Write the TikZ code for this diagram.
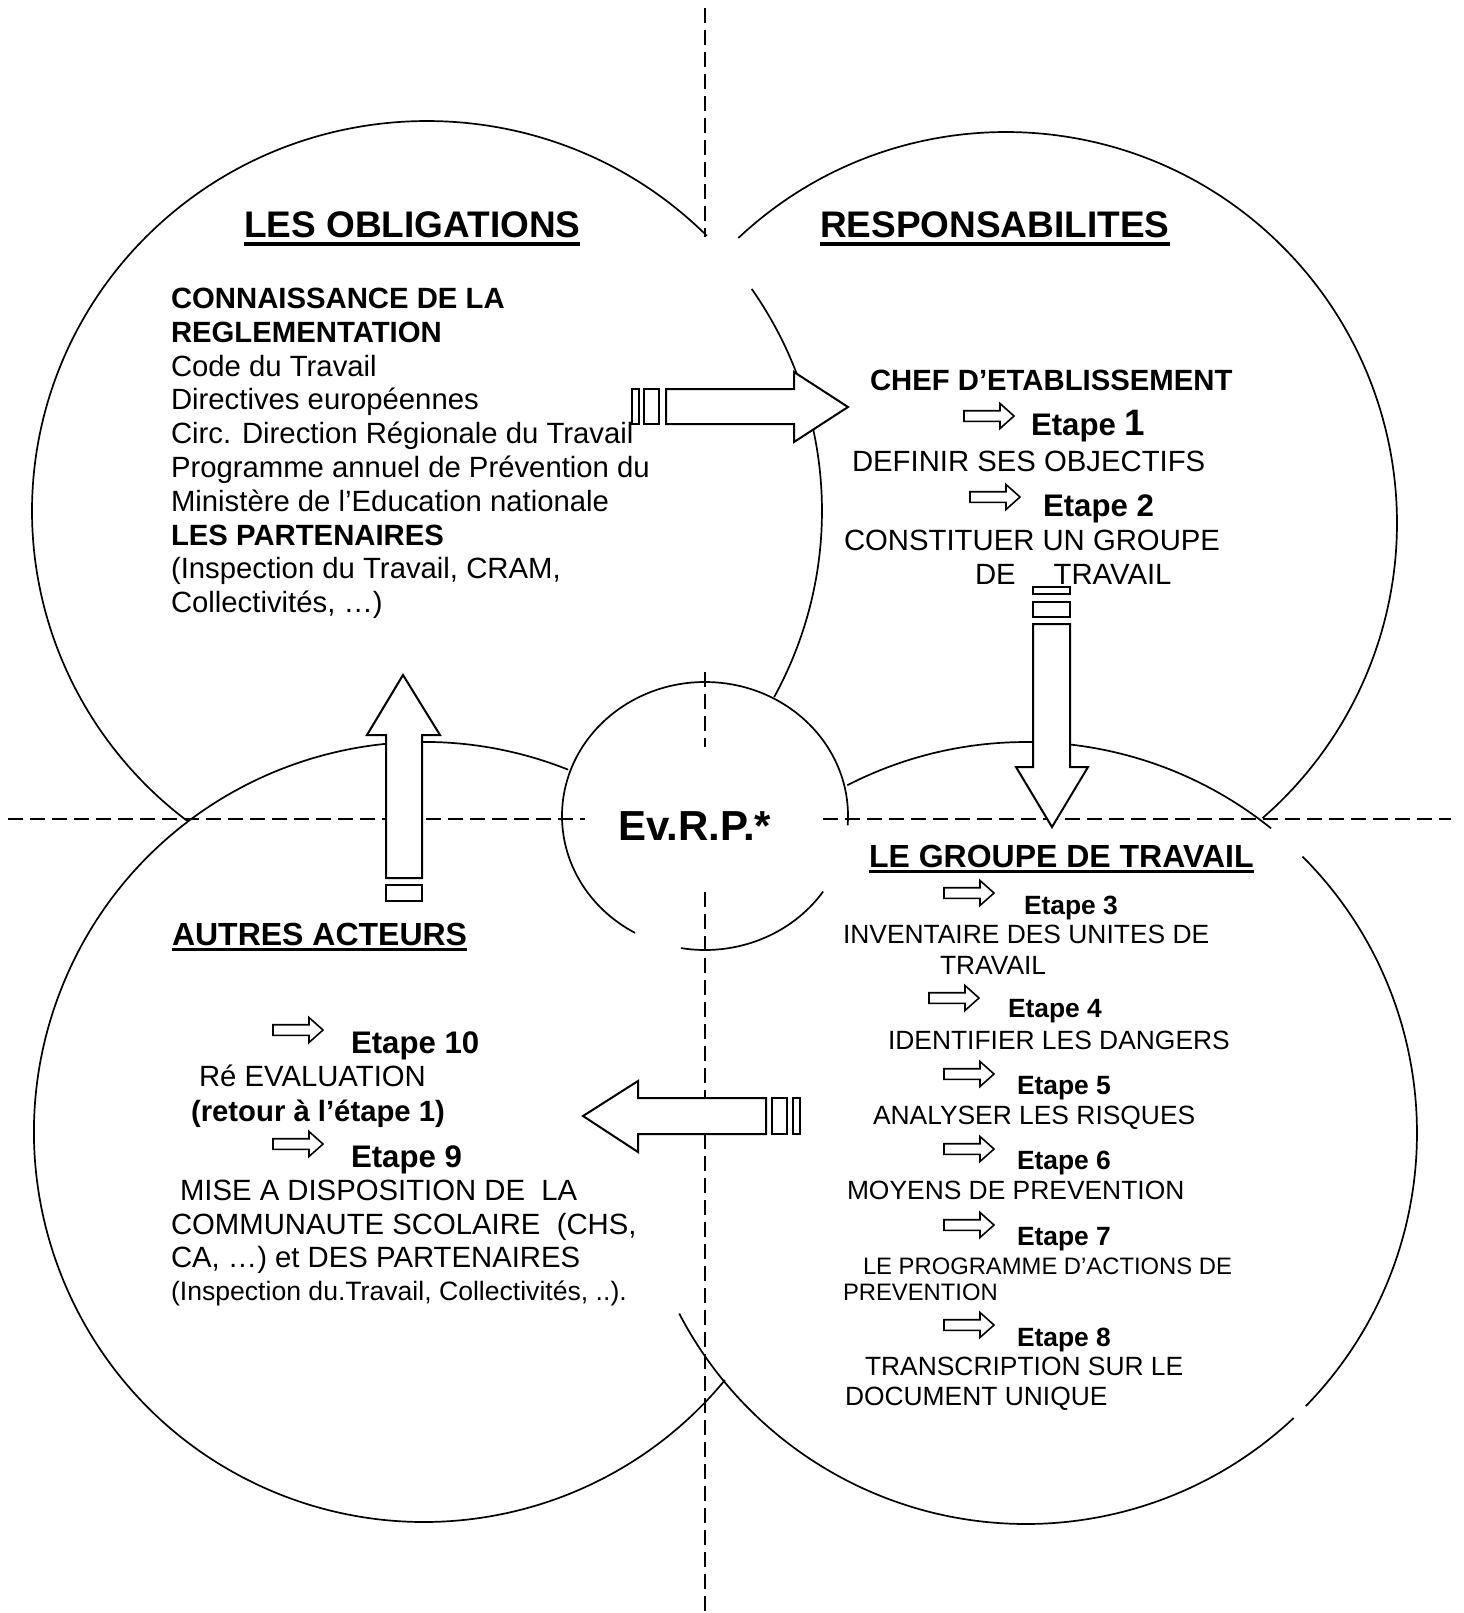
\documentclass[tikz,border=0pt]{standalone}
\usepackage{fontspec}
\setmainfont{Liberation Sans}
\newsavebox\ulbox
\newcommand\ulA[1]{\sbox\ulbox{#1}\rlap{\rule[-4.4pt]{\wd\ulbox}{1.9pt}}\usebox\ulbox}
\newcommand\ulB[1]{\sbox\ulbox{#1}\rlap{\rule[-3.2pt]{\wd\ulbox}{1.9pt}}\usebox\ulbox}
\begin{document}
\begin{tikzpicture}[x=0.5pt,y=-0.5pt,line join=miter]
\tikzset{
  circ/.style={line width=0.85pt},
  guide/.style={dash pattern=on 7.5pt off 3.5pt,line width=0.75pt},
  bigarrow/.style={draw,fill=white,line width=1pt},
  smallarrow/.style={draw,fill=white,line width=0.8pt},
  txt/.style={anchor=base west,inner sep=0pt,outer sep=0pt},
  titleS/.style={txt,font=\fontsize{18.5}{22}\selectfont\bfseries},
  headB/.style={txt,font=\fontsize{16}{19}\selectfont\bfseries},
  body/.style={txt,font=\fontsize{14.65}{17}\selectfont},
  bodyB/.style={txt,font=\fontsize{14.65}{17}\selectfont\bfseries},
  etL/.style={txt,font=\fontsize{15.6}{18}\selectfont\bfseries},
  etR/.style={txt,font=\fontsize{13.2}{16}\selectfont\bfseries},
  rbody/.style={txt,font=\fontsize{13.2}{16}\selectfont},
  rsmall/.style={txt,font=\fontsize{11.9}{14}\selectfont},
  lsmall/.style={txt,font=\fontsize{13.3}{16}\selectfont},
}
\newcommand\sarr[2]{\draw[smallarrow] (#1,#2-5.3) -- (#1+36,#2-5.3) -- (#1+36,#2-12.5) -- (#1+50,#2) -- (#1+36,#2+12.5) -- (#1+36,#2+5.3) -- (#1,#2+5.3) -- cycle;}
\useasboundingbox (0,0) rectangle (1463,1613);

% dashed guide lines
\draw[guide] (705,8) -- (705,237);
\draw[guide] (705,672) -- (705,747);
\draw[guide] (705,892) -- (705,1613);
\draw[guide] (8,819) -- (585,819);
\draw[guide] (823,819) -- (1451,819);

% big circles (visible parts)
\draw[circ] (427,511) ++(-44.9:395 and 390) arc[start angle=-44.9,end angle=-232.8,x radius=395,y radius=390];
\draw[circ] (427,511) ++(-34.7:395 and 390) arc[start angle=-34.7,end angle=28.5,x radius=395,y radius=390];
\draw[circ] (1006,523) ++(-133.2:391) arc[start angle=-133.2,end angle=49,radius=391];
\draw[circ] (424,1132) ++(-68.3:390) arc[start angle=-68.3,end angle=-320.5,radius=390];
\draw[circ] (1026,1133) ++(-117.2:391) arc[start angle=-117.2,end angle=-51.2,radius=391];
\draw[circ] (1026,1133) ++(-45:391) arc[start angle=-45,end angle=44.3,radius=391];
\draw[circ] (1026,1133) ++(46.8:391) arc[start angle=46.8,end angle=152.5,radius=391];

% small central circle
\draw[circ] (705,816) ++(4:143 and 134) arc[start angle=4,end angle=-240.7,x radius=143,y radius=134];
\draw[circ] (705,816) ++(99.7:143 and 134) arc[start angle=99.7,end angle=34.3,x radius=143,y radius=134];

% big arrows
\draw[bigarrow] (666,389) -- (794,389) -- (794,372) -- (848,407) -- (794,442) -- (794,424) -- (666,424) -- cycle;
\draw[bigarrow] (632,389) rectangle (639,424);
\draw[bigarrow] (644,389) rectangle (659,424);

\draw[bigarrow] (1033,587) rectangle (1070,594);
\draw[bigarrow] (1033,602) rectangle (1070,617);
\draw[bigarrow] (1033,624) -- (1033,767) -- (1016,767) -- (1052,827) -- (1088,767) -- (1070,767) -- (1070,624) -- cycle;

\draw[bigarrow] (766,1098) -- (638,1098) -- (638,1081) -- (583,1116) -- (638,1152) -- (638,1134) -- (766,1134) -- cycle;
\draw[bigarrow] (772,1098) rectangle (787,1134);
\draw[bigarrow] (793,1098) rectangle (800,1134);

\draw[bigarrow] (386,878) -- (386,735) -- (367,735) -- (403,675) -- (440,735) -- (422,735) -- (422,878) -- cycle;
\draw[bigarrow] (386,885) rectangle (422,901);

% top left
\node[titleS] (tob) at (244,237) {\ulA{LES OBLIGATIONS}};
\node[bodyB] (l1) at (171,308.5) {CONNAISSANCE DE LA};
\node[bodyB] (l2) at (171,342.3) {REGLEMENTATION};
\node[body] (l3) at (171,376) {Code du Travail};
\node[body] (l4) at (171,409.8) {Directives européennes};
\node[body] (l5) at (171,443.6) {Circ. Direction Régionale du Travail};
\node[body] (l6) at (171,477.4) {Programme annuel de Prévention du};
\node[body] (l7) at (171,511.2) {Ministère de l’Education nationale};
\node[bodyB] (l8) at (171,545) {LES PARTENAIRES};
\node[body] (l9) at (171,578.8) {(Inspection du Travail, CRAM,};
\node[body] (l10) at (171,612.6) {Collectivités, …)};

% top right
\node[titleS] (tresp) at (820,237) {\ulA{RESPONSABILITES}};
\node[bodyB] (chef) at (870,390) {CHEF D’ETABLISSEMENT};
\sarr{964}{416}
\node[etL] (e1) at (1031,435) {Etape {\fontsize{18.4}{20}\selectfont 1}};
\node[body] (def) at (852,471) {DEFINIR SES OBJECTIFS};
\sarr{970}{497}
\node[etL] (e2) at (1043,516) {Etape 2};
\node[body] (cons) at (844,550) {CONSTITUER UN GROUPE};
\node[body] (detr) at (975,584) {DE\hspace{19pt}TRAVAIL};

% centre
\node[anchor=base,inner sep=0pt,font=\fontsize{21}{24}\selectfont\bfseries] (evrp) at (695,840) {Ev.R.P.*};

% bottom left
\node[headB] (autres) at (172,945) {\ulB{AUTRES ACTEURS}};
\sarr{273}{1030}
\node[etL] (e10) at (351,1053) {Etape 10};
\node[body] (reev) at (199,1086) {Ré EVALUATION};
\node[bodyB] (ret) at (191,1121) {(retour à l’étape 1)};
\sarr{273}{1144}
\node[etL] (e9) at (351,1167) {Etape 9};
\node[body] (mise) at (180,1200) {MISE A DISPOSITION DE\ \ LA};
\node[body] (comm) at (171,1234) {COMMUNAUTE SCOLAIRE\ \ (CHS,};
\node[body] (ca) at (171,1267) {CA, …) et DES PARTENAIRES};
\node[lsmall] (insp) at (171,1300) {(Inspection du.Travail, Collectivités, ..).};

% bottom right
\node[headB] (lgdt) at (869,867) {\ulB{LE GROUPE DE TRAVAIL}};
\sarr{944}{893}
\node[etR] (e3) at (1024,914) {Etape 3};
\node[rbody] (inv) at (843,943) {INVENTAIRE DES UNITES DE};
\node[rbody] (trav) at (940,974) {TRAVAIL};
\sarr{929}{998}
\node[etR] (e4) at (1008,1017) {Etape 4};
\node[rbody] (ident) at (888,1049) {IDENTIFIER LES DANGERS};
\sarr{944}{1074}
\node[etR] (e5) at (1017,1094) {Etape 5};
\node[rbody] (anal) at (873,1124) {ANALYSER LES RISQUES};
\sarr{944}{1149}
\node[etR] (e6) at (1017,1169) {Etape 6};
\node[rbody] (moy) at (847,1199) {MOYENS DE PREVENTION};
\sarr{944}{1225}
\node[etR] (e7) at (1017,1245) {Etape 7};
\node[rsmall] (prog) at (863,1274) {LE PROGRAMME D’ACTIONS DE};
\node[rsmall] (prev) at (843,1300) {PREVENTION};
\sarr{944}{1325}
\node[etR] (e8) at (1017,1346) {Etape 8};
\node[rbody] (trans) at (865,1375) {TRANSCRIPTION SUR LE};
\node[rbody] (doc) at (845,1405) {DOCUMENT UNIQUE};
\end{tikzpicture}
\end{document}
